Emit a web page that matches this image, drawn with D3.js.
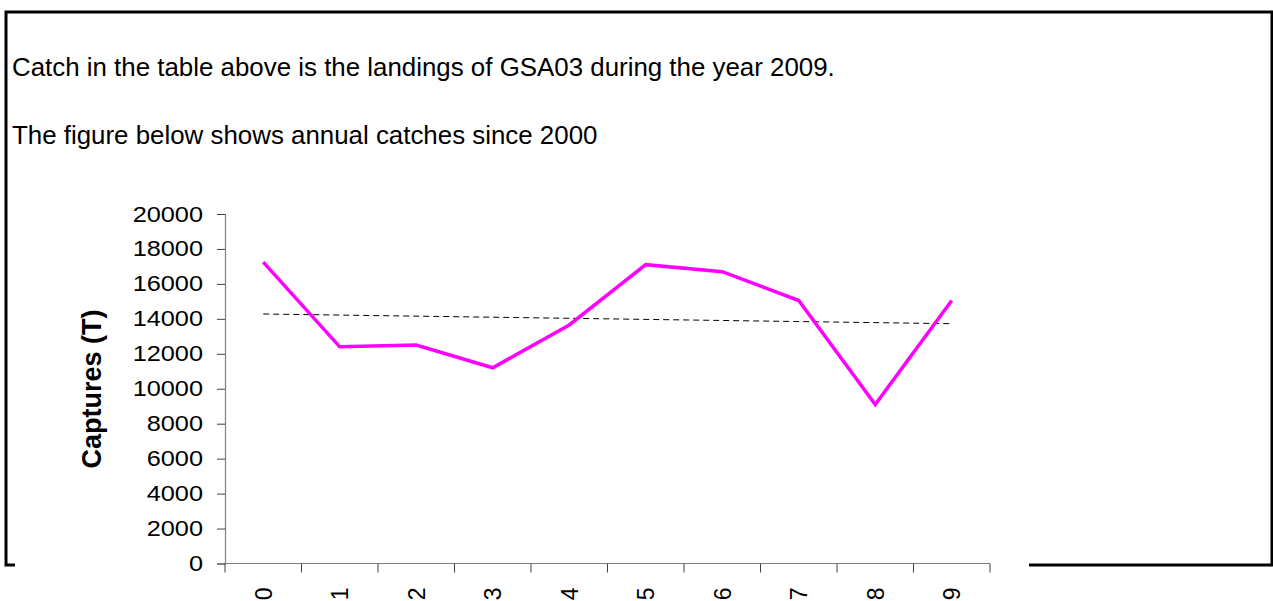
<!DOCTYPE html>
<html>
<head>
<meta charset="utf-8">
<script src="https://cdn.jsdelivr.net/npm/d3@7"></script>
<style>
  html, body { margin: 0; padding: 0; background: #fff; }
  svg { display: block; }
  text { font-family: "Liberation Sans", Arial, Helvetica, sans-serif; fill: #000; }
</style>
</head>
<body>
<svg id="chart" width="1273" height="601"></svg>
<script>
// Annual catches (tonnes), years indexed 0..9 from 2000
const years = ["0", "1", "2", "3", "4", "5", "6", "7", "8", "9"];
const captures = [17250, 12400, 12500, 11200, 13650, 17100, 16700, 15050, 9100, 15050];
const yTicks = [0, 2000, 4000, 6000, 8000, 10000, 12000, 14000, 16000, 18000, 20000];
const introLines = [
  "Catch in the table above is the landings of GSA03 during the year 2009.",
  "The figure below shows annual catches since 2000"
];
const yTitle = "Captures (T)";

const svg = d3.select("#chart");

// Widen a text element's glyphs by a factor
function stretch(sel, k) {
  sel.each(function () {
    const l = this.getComputedTextLength();
    d3.select(this).attr("textLength", l * k).attr("lengthAdjust", "spacingAndGlyphs");
  });
}

// Page frame around the text block
svg.append("rect")
  .attr("x", 6).attr("y", 12)
  .attr("width", 1266).attr("height", 553)
  .attr("fill", "none").attr("stroke", "#000").attr("stroke-width", 3);

svg.selectAll("text.intro")
  .data(introLines)
  .enter().append("text")
  .attr("class", "intro")
  .attr("x", 12)
  .attr("y", (d, i) => 76 + i * 68)
  .style("font-size", "25px")
  .text(d => d)
  .call(stretch, 1.035);

// Embedded chart sits on top of the frame's lower edge
svg.append("rect")
  .attr("x", 15).attr("y", 180)
  .attr("width", 1014).attr("height", 421)
  .attr("fill", "#fff");

const x = d3.scaleBand().domain(years).range([225, 990]);
const y = d3.scaleLinear().domain([0, 20000]).range([563.5, 214]);

// Y axis
const yAxis = svg.append("g")
  .attr("transform", "translate(225,0)")
  .call(d3.axisLeft(y).tickValues(yTicks).tickSize(8).tickPadding(14).tickFormat(d3.format("d")));
yAxis.select(".domain").attr("stroke", "#808080").attr("stroke-width", 1.2);
yAxis.selectAll(".tick line").attr("stroke", "#404040");
yAxis.selectAll(".tick text")
  .style("font-size", "22px")
  .style("font-family", "'Liberation Sans', Arial, sans-serif")
  .attr("fill", "#000")
  .call(stretch, 1.15);

// X axis with ticks on category boundaries
const xAxisG = svg.append("g").attr("transform", "translate(0,563.5)");
xAxisG.append("line")
  .attr("x1", 225).attr("x2", 990)
  .attr("stroke", "#808080").attr("stroke-width", 1.2);
const bounds = years.map(d => x(d)).concat([x(years[years.length - 1]) + x.bandwidth()]);
xAxisG.selectAll("line.tk")
  .data(bounds)
  .enter().append("line")
  .attr("class", "tk")
  .attr("x1", d => d).attr("x2", d => d)
  .attr("y1", 0).attr("y2", 9)
  .attr("stroke", "#404040");
xAxisG.selectAll("text.xl")
  .data(years)
  .enter().append("text")
  .attr("class", "xl")
  .attr("transform", d => `translate(${x(d) + x.bandwidth() / 2},24) rotate(-90)`)
  .attr("text-anchor", "end")
  .attr("dy", "0.36em")
  .style("font-size", "23px")
  .text(d => d);

// Y axis title
svg.append("text")
  .attr("transform", "translate(92,389) rotate(-90)")
  .attr("text-anchor", "middle")
  .attr("dy", "0.35em")
  .style("font-size", "27px")
  .style("font-weight", "bold")
  .text(yTitle);

// Least-squares trend through the annual catches
const idx = captures.map((_, i) => i);
const mx = d3.mean(idx), my = d3.mean(captures);
const slope = d3.sum(idx, i => (i - mx) * (captures[i] - my)) / d3.sum(idx, i => (i - mx) ** 2);
const intercept = my - slope * mx;
const cx = i => x(years[i]) + x.bandwidth() / 2;

svg.append("line")
  .attr("x1", cx(0)).attr("y1", y(intercept))
  .attr("x2", cx(years.length - 1)).attr("y2", y(intercept + slope * (years.length - 1)))
  .attr("stroke", "#000").attr("stroke-width", 1)
  .attr("stroke-dasharray", "6,4");

// Catch series
const line = d3.line().x((d, i) => cx(i)).y(d => y(d));
svg.append("path")
  .datum(captures)
  .attr("d", line)
  .attr("fill", "none")
  .attr("stroke", "#ff00ff")
  .attr("stroke-width", 3.5)
  .attr("stroke-linejoin", "miter");
</script>
</body>
</html>
